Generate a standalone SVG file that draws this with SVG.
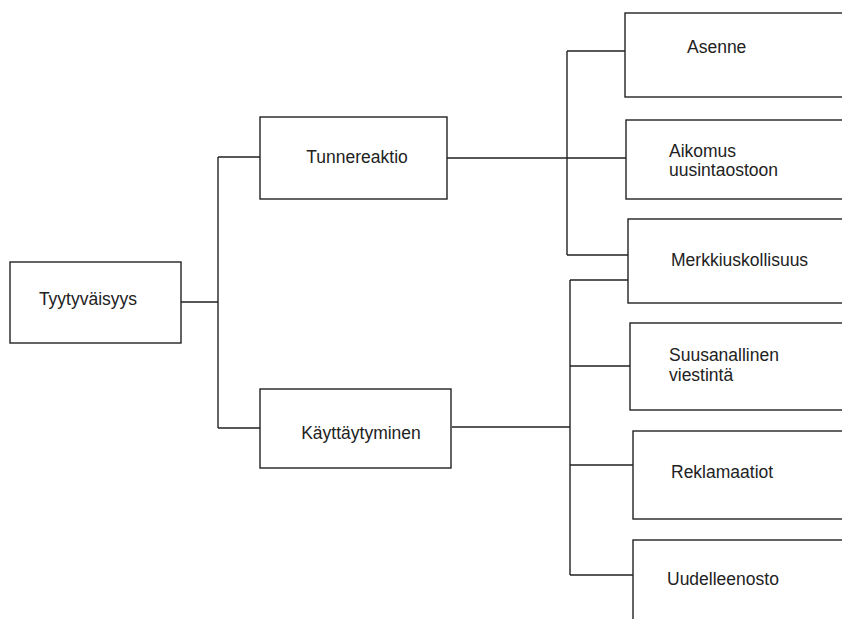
<svg xmlns="http://www.w3.org/2000/svg" width="842" height="619" viewBox="0 0 842 619">
<style>
.box{fill:#fff;stroke:#222;stroke-width:1.4}
.ln{fill:none;stroke:#222;stroke-width:1.4}
text{font-family:"Liberation Sans",Arial,sans-serif;font-size:17.5px;fill:#222}
</style>
<rect x="0" y="0" width="842" height="619" fill="#fff"/>
<g id="connectors">
<path class="ln" d="M181 302H218M218 157V428M218 157H260M218 428H260"/>
<path class="ln" d="M447 158H628M567 51V255M567 51H625M567 255H628"/>
<path class="ln" d="M452 427H570M570 280V575M570 280H628M570 366H630M570 465H633M570 575H633"/>
</g>
<g id="n-tyytyvaisyys"><rect class="box" x="10" y="262" width="171" height="81"/><text x="88" y="305" text-anchor="middle">Tyytyväisyys</text></g>
<g id="n-tunnereaktio"><rect class="box" x="260" y="117" width="187" height="82"/><text x="357" y="163" text-anchor="middle">Tunnereaktio</text></g>
<g id="n-kayttaytyminen"><rect class="box" x="260" y="389" width="191" height="79"/><text x="361" y="439" text-anchor="middle">Käyttäytyminen</text></g>
<g id="n-asenne"><rect class="box" x="625" y="13" width="230" height="84"/><text x="687" y="53">Asenne</text></g>
<g id="n-aikomus"><rect class="box" x="626" y="120" width="230" height="79"/><text x="669" y="157">Aikomus</text><text x="669" y="176">uusintaostoon</text></g>
<g id="n-merkkiuskollisuus"><rect class="box" x="628" y="219" width="230" height="84"/><text x="671" y="266">Merkkiuskollisuus</text></g>
<g id="n-suusanallinen"><rect class="box" x="630" y="323" width="230" height="87"/><text x="669" y="361">Suusanallinen</text><text x="669" y="381">viestintä</text></g>
<g id="n-reklamaatiot"><rect class="box" x="633" y="431" width="230" height="88"/><text x="671" y="478">Reklamaatiot</text></g>
<g id="n-uudelleenosto"><rect class="box" x="633" y="540" width="230" height="100"/><text x="667" y="585">Uudelleenosto</text></g>
</svg>
